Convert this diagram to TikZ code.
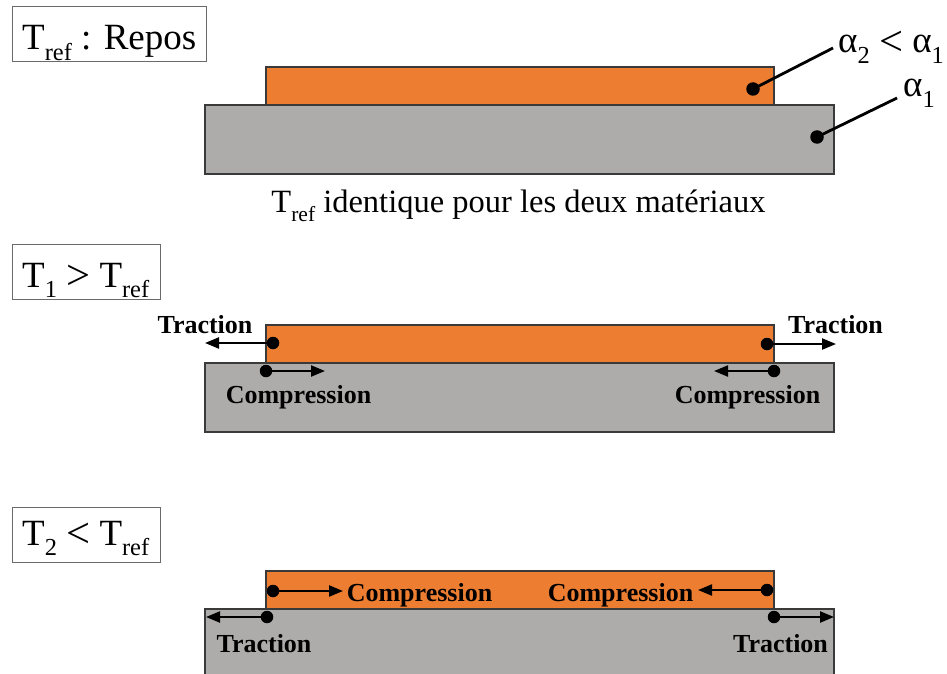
\documentclass[tikz,border=0pt]{standalone}
\usepackage{fontspec}
\usepackage{graphicx}
\setmainfont{Liberation Serif}
\usetikzlibrary{arrows.meta}
\definecolor{orng}{HTML}{ED7D31}
\definecolor{gry}{HTML}{AEABAB}
\definecolor{edgec}{HTML}{3A3A3A}
\definecolor{boxc}{HTML}{6A6A6A}
\newcommand{\sbs}[1]{\raisebox{-0.28em}{\fontsize{0.66em}{0.66em}\selectfont #1}}
\newcommand{\bigrel}[1]{\raisebox{-0.07em}{\scalebox{1.15}{#1}}}
\tikzset{
  plate/.style={draw=edgec, line width=1.2pt, anchor=north west, inner sep=0pt, outer sep=0pt},
  orangeplate/.style={plate, fill=orng},
  grayplate/.style={plate, fill=gry},
  titlebox/.style={draw=boxc, line width=1pt, inner sep=0pt, minimum height=55pt},
  dotA/.style={circle, fill=black, inner sep=0pt, minimum size=13.5pt},
  dotB/.style={circle, fill=black, inner sep=0pt, minimum size=12.5pt},
  arr/.style={line width=2.2pt, -{Triangle[length=14pt,width=11pt]}},
  lead/.style={line width=2.8pt},
  lbl/.style={font=\fontsize{26}{28}\selectfont\bfseries, anchor=base, inner sep=0pt},
  big/.style={font=\fontsize{37}{40}\selectfont, anchor=base west, inner sep=0pt},
}
\begin{document}
\begin{tikzpicture}[x=1pt,y=-1pt]
\clip (0,0) rectangle (947,674);
\fill[white] (0,0) rectangle (947,674);

% ---------- Panel 1 ----------
\node[titlebox, minimum width=194pt] (t1) at (109,34.5) {};
\node[big] (t1txt) at (22,50) {T\sbs{ref} : Repos};
\node[grayplate, minimum width=629pt, minimum height=69pt] (g1) at (205,105) {};
\node[orangeplate, minimum width=508pt, minimum height=38pt] (o1) at (266,67) {};
\node[dotA] (da) at (753,89) {};
\node[dotA] (db) at (817,137) {};
\coordinate (la) at (833,48);
\coordinate (lb) at (897,98);
\draw[lead] (da.center) -- (la);
\draw[lead] (db.center) -- (lb);
\node[big] (alab) at (838,53) {α\sbs{2} \bigrel{<} α\sbs{1}};
\node[big] (blab) at (903,97) {α\sbs{1}};
\node[font=\fontsize{32.5}{34}\selectfont, anchor=base, inner sep=0pt] (cap) at (518.5,212) {T\sbs{ref} identique pour les deux matériaux};

% ---------- Panel 2 ----------
\node[titlebox, minimum width=148pt] (t2) at (86,271.5) {};
\node[big] (t2txt) at (22,287) {T\sbs{1} \bigrel{>} T\sbs{ref}};
\node[grayplate, minimum width=629pt, minimum height=69pt] (g2) at (205,363) {};
\node[orangeplate, minimum width=508pt, minimum height=38pt] (o2) at (266,325) {};
\node[dotB] (p1) at (273,343) {};
\node[dotB] (p2) at (266,371) {};
\node[dotB] (p3) at (767,344) {};
\node[dotB] (p4) at (774,371) {};
\coordinate (e1) at (205,343);
\coordinate (e2) at (325,371);
\coordinate (e3) at (836,344);
\coordinate (e4) at (714,371);
\draw[arr] (p1.center) -- (e1);
\draw[arr] (p2.center) -- (e2);
\draw[arr] (p3.center) -- (e3);
\draw[arr] (p4.center) -- (e4);
\node[lbl] (q1) at (205,333) {Traction};
\node[lbl] (q2) at (298.5,403) {Compression};
\node[lbl] (q3) at (835.5,333) {Traction};
\node[lbl] (q4) at (747.5,403) {Compression};

% ---------- Panel 3 ----------
\node[titlebox, minimum width=148pt] (t3) at (86,534.5) {};
\node[big] (t3txt) at (22,545) {T\sbs{2} \bigrel{<} T\sbs{ref}};
\node[grayplate, minimum width=629pt, minimum height=90pt] (g3) at (205,609) {};
\node[orangeplate, minimum width=508pt, minimum height=38pt] (o3) at (266,571) {};
\node[dotB] (r1) at (273,591) {};
\node[dotB] (r2) at (267,617) {};
\node[dotB] (r3) at (767,590) {};
\node[dotB] (r4) at (774,617) {};
\coordinate (f1) at (343,591);
\coordinate (f2) at (206,617);
\coordinate (f3) at (698,590);
\coordinate (f4) at (834,617);
\draw[arr] (r1.center) -- (f1);
\draw[arr] (r2.center) -- (f2);
\draw[arr] (r3.center) -- (f3);
\draw[arr] (r4.center) -- (f4);
\node[lbl] (s1) at (419.5,601) {Compression};
\node[lbl] (s2) at (264,652) {Traction};
\node[lbl] (s3) at (620.5,601) {Compression};
\node[lbl] (s4) at (780.5,652) {Traction};
\end{tikzpicture}
\end{document}
